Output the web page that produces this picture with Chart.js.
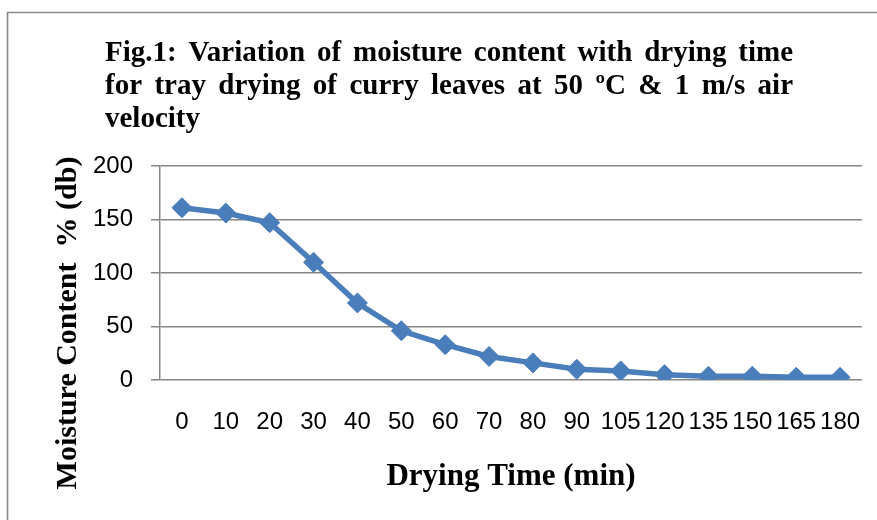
<!DOCTYPE html>
<html>
<head>
<meta charset="utf-8">
<script src="https://cdn.jsdelivr.net/npm/chart.js@4.4.1/dist/chart.umd.min.js"></script>
<style>
  html, body { margin: 0; padding: 0; background: #ffffff; }
  #wrap { width: 877px; height: 520px; position: relative; }
</style>
</head>
<body>
<div id="wrap"><canvas id="c" width="877" height="520"></canvas></div>
<script>
// ---- data ----
const dryingTimes = ['0', '10', '20', '30', '40', '50', '60', '70', '80', '90', '105', '120', '135', '150', '165', '180'];
const moistureContent = [161, 156, 147, 110, 72, 46, 33, 22, 16, 10, 8.5, 5, 3.5, 3.5, 2.5, 2.5];
const yTickValues = [0, 50, 100, 150, 200];
const titleLines = [
  'Fig.1: Variation of moisture content with  drying time',
  'for tray drying of curry leaves at 50 ºC & 1 m/s air',
  'velocity'
];
const xAxisTitle = 'Drying Time (min)';
const yAxisTitle = 'Moisture Content  % (db)';

const TICK_FONT = '"Liberation Sans", Arial, sans-serif';
const SERIF = '"Liberation Serif", "Times New Roman", serif';
const GRID = '#868686';
const BLUE = '#4A7EBB';

const framePlugin = {
  id: 'frame',
  beforeDraw(chart) {
    const ctx = chart.ctx;
    ctx.save();
    ctx.fillStyle = '#ffffff';
    ctx.fillRect(0, 0, chart.width, chart.height);
    ctx.strokeStyle = '#8a8a8a';
    ctx.lineWidth = 1.6;
    ctx.beginPath();
    ctx.moveTo(7.5, chart.height + 2);
    ctx.lineTo(7.5, 12.5);
    ctx.lineTo(chart.width + 2, 12.5);
    ctx.stroke();
    ctx.restore();
  }
};

const titlePlugin = {
  id: 'justTitle',
  afterDraw(chart) {
    const ctx = chart.ctx;
    ctx.save();
    ctx.fillStyle = '#000000';
    ctx.font = 'bold 29px ' + SERIF;
    ctx.textBaseline = 'alphabetic';
    ctx.textAlign = 'left';
    const left = 105, right = 793;
    const baselines = [61, 94, 127];
    titleLines.forEach((line, i) => {
      const y = baselines[i];
      if (i === titleLines.length - 1) {
        ctx.fillText(line, left, y);
        return;
      }
      const words = line.split(/\s+/);
      const wordsW = words.reduce((s, w) => s + ctx.measureText(w).width, 0);
      const gap = (right - left - wordsW) / (words.length - 1);
      let x = left;
      words.forEach(w => {
        ctx.fillText(w, x, y);
        x += ctx.measureText(w).width + gap;
      });
    });
    // y axis title
    ctx.font = 'bold 30px ' + SERIF;
    ctx.translate(76, 323);
    ctx.rotate(-Math.PI / 2);
    ctx.textAlign = 'center';
    ctx.fillText(yAxisTitle, 0, 0);
    ctx.restore();
  }
};

new Chart(document.getElementById('c'), {
  type: 'line',
  data: {
    labels: dryingTimes,
    datasets: [{
      data: moistureContent,
      borderColor: BLUE,
      backgroundColor: BLUE,
      borderWidth: 5.5,
      pointStyle: 'rectRot',
      pointRadius: 10,
      pointBorderWidth: 1,
      pointBackgroundColor: BLUE,
      pointBorderColor: BLUE,
      tension: 0,
      fill: false
    }]
  },
  options: {
    responsive: false,
    animation: false,
    devicePixelRatio: 1,
    layout: { padding: { top: 166, right: 15, left: 0, bottom: 0 } },
    plugins: {
      legend: { display: false },
      title: { display: false },
      tooltip: { enabled: false }
    },
    scales: {
      x: {
        type: 'category',
        offset: true,
        grid: { display: false, drawTicks: false },
        border: { display: false },
        ticks: {
          color: '#000000',
          font: { family: TICK_FONT, size: 24 },
          padding: 28,
          maxRotation: 0,
          autoSkip: false
        },
        title: {
          display: true,
          text: xAxisTitle,
          color: '#000000',
          font: { family: SERIF, size: 31, weight: 'bold' },
          padding: { top: 0, bottom: 24 }
        },
        afterFit(s) { s.height = 140; s.paddingLeft = 0; s.paddingRight = 0; }
      },
      y: {
        min: 0,
        max: 200,
        afterBuildTicks(s) { s.ticks = yTickValues.map(v => ({ value: v })); },
        grid: { color: GRID, lineWidth: 1.5, tickLength: 9, drawTicks: true },
        border: { display: true, color: GRID, width: 1.5 },
        ticks: {
          color: '#000000',
          font: { family: TICK_FONT, size: 24 },
          padding: 18
        },
        afterFit(s) { s.width = 160; }
      }
    }
  },
  plugins: [framePlugin, titlePlugin]
});
</script>
</body>
</html>
